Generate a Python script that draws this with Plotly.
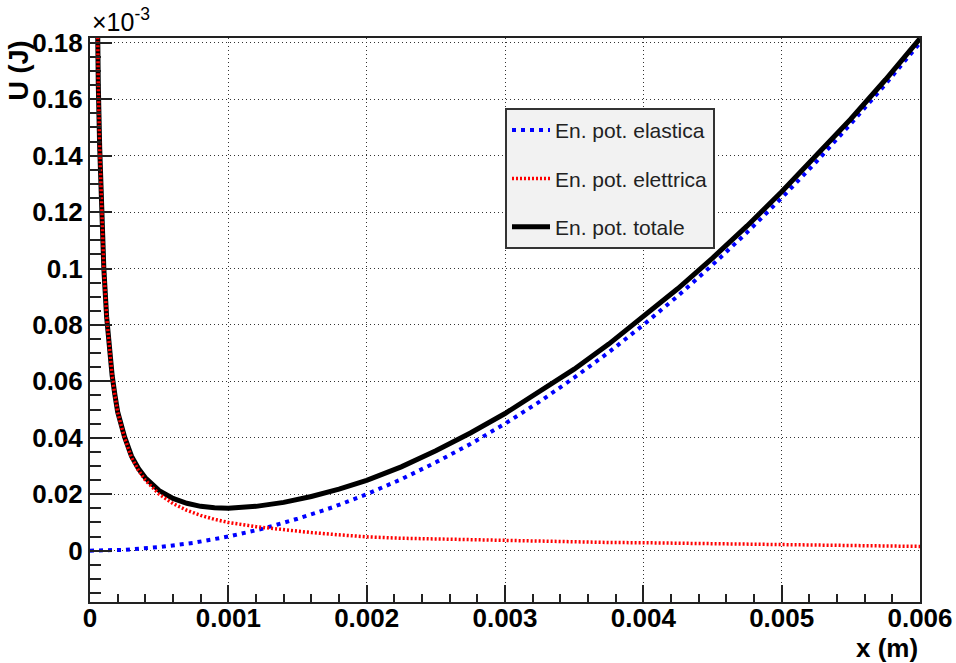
import plotly.graph_objects as go

# ---- data (energies in units of 1e-3 J, x in m) ----
x_el = [0, 0.00025, 0.0005, 0.00075, 0.001, 0.00125, 0.0015, 0.00175, 0.002,
        0.00225, 0.0025, 0.00275, 0.003, 0.00325, 0.0035, 0.00375, 0.004,
        0.00425, 0.0045, 0.00475, 0.005, 0.00525, 0.0055, 0.00575, 0.006]
u_elastica = [0, 0.0003, 0.00125, 0.0028, 0.005, 0.0078, 0.0113, 0.0153, 0.020,
              0.0253, 0.0313, 0.0378, 0.045, 0.0528, 0.0613, 0.0703, 0.080,
              0.0903, 0.1013, 0.1128, 0.125, 0.1378, 0.1513, 0.1653, 0.180]

x_e = [0.00004, 0.00005, 0.00006, 0.00007, 0.00008, 0.00009, 0.0001, 0.00012,
       0.00014, 0.00016, 0.00018, 0.0002, 0.00025, 0.0003, 0.00035, 0.0004,
       0.0005, 0.0006, 0.0007, 0.0008, 0.0009, 0.001, 0.0012, 0.0014, 0.0016,
       0.0018, 0.002, 0.00225, 0.0025, 0.00275, 0.003, 0.00325, 0.0035, 0.00375,
       0.004, 0.00425, 0.0045, 0.00475, 0.005, 0.00525, 0.0055, 0.00575, 0.006]
u_elettrica = [0.25, 0.195, 0.165, 0.143, 0.125, 0.111, 0.100, 0.083,
               0.071, 0.062, 0.055, 0.049, 0.040, 0.033, 0.0285, 0.025,
               0.020, 0.0167, 0.0143, 0.0125, 0.0111, 0.0100, 0.0085, 0.0073, 0.0064,
               0.0056, 0.0049, 0.0044, 0.0041, 0.0039, 0.0036, 0.0034, 0.0030, 0.0029,
               0.0028, 0.0026, 0.0024, 0.0023, 0.0022, 0.0021, 0.0017, 0.0016, 0.0015]
u_totale = [0.25, 0.195, 0.165, 0.143, 0.125, 0.111, 0.100, 0.083,
            0.0711, 0.0621, 0.0552, 0.0492, 0.0403, 0.0335, 0.0291, 0.0258,
            0.0213, 0.0185, 0.0168, 0.0157, 0.0152, 0.0150, 0.0157, 0.0171, 0.0192,
            0.0218, 0.0249, 0.0297, 0.0354, 0.0417, 0.0486, 0.0562, 0.0643, 0.0732,
            0.0828, 0.0929, 0.1037, 0.1151, 0.1272, 0.1399, 0.1530, 0.1669, 0.1815]

x_tickvals = [0, 0.001, 0.002, 0.003, 0.004, 0.005, 0.006]
x_ticktext = ["0", "0.001", "0.002", "0.003", "0.004", "0.005", "0.006"]
y_tickvals = [0, 0.02, 0.04, 0.06, 0.08, 0.1, 0.12, 0.14, 0.16, 0.18]
y_ticktext = ["0", "0.02", "0.04", "0.06", "0.08", "0.1", "0.12", "0.14", "0.16", "0.18"]

names = ["En. pot. elastica", "En. pot. elettrica", "En. pot. totale"]

FONT = "Liberation Sans, Arial, Helvetica, sans-serif"

fig = go.Figure()
fig.add_trace(go.Scatter(x=x_el, y=u_elastica, mode="lines", name=names[0],
                         legendgroup="a", legendrank=1,
                         line=dict(color="#0000ff", width=4, dash="4px,5px")))
fig.add_trace(go.Scatter(x=x_e, y=u_totale, mode="lines", name=names[2],
                         legendgroup="c", legendrank=3,
                         line=dict(color="#000000", width=5)))
fig.add_trace(go.Scatter(x=x_e, y=u_elettrica, mode="lines", name=names[1],
                         legendgroup="b", legendrank=2,
                         line=dict(color="#ff0000", width=3.5, dash="2px,2px")))

axis_common = dict(
    showline=True, linecolor="#222", linewidth=2, mirror=True,
    ticks="inside", tickcolor="#222", tickwidth=2,
    showgrid=True, gridcolor="#333", gridwidth=1, griddash="1px,3px",
    zeroline=False, automargin=False,
    tickfont=dict(family=FONT, size=26, color="#000", weight="bold"),
)

fig.update_xaxes(**axis_common, range=[0, 0.006], tickvals=x_tickvals, ticktext=x_ticktext,
                 ticklen=17, ticklabelstandoff=-8,
                 minor=dict(ticks="inside", ticklen=8, dtick=0.0002, tick0=0,
                            tickcolor="#222", tickwidth=2, showgrid=False))
fig.update_yaxes(**axis_common, range=[-0.0182, 0.1817], tickvals=y_tickvals, ticktext=y_ticktext,
                 ticklen=22,
                 minor=dict(ticks="inside", ticklen=11, dtick=0.005, tick0=0,
                            tickcolor="#222", tickwidth=2, showgrid=False))

fig.update_layout(
    width=956, height=663,
    margin=dict(l=90, r=36, t=38, b=61),
    paper_bgcolor="white", plot_bgcolor="white",
    showlegend=True,
    legend=dict(x=0.5, y=0.876, xanchor="left", yanchor="top",
                bgcolor="#f2f2f2", bordercolor="#333", borderwidth=2,
                font=dict(family=FONT, size=21, color="#222"),
                itemwidth=38,
                tracegroupgap=18, traceorder="grouped"),
    annotations=[
        dict(text="<b>U (J)</b>", xref="paper", yref="paper", x=-0.085, y=1.0,
             xanchor="center", yanchor="top", textangle=-90, showarrow=False,
             font=dict(family=FONT, size=27, color="#000")),
        dict(text="<b>x (m)</b>", xref="paper", yref="paper", x=1.0, y=-0.081,
             xanchor="right", yanchor="middle", showarrow=False,
             font=dict(family=FONT, size=26, color="#000")),
        dict(text="×10<sup>-3</sup>", xref="paper", yref="paper", x=0.0, y=1.0,
             xanchor="left", yanchor="bottom", showarrow=False,
             font=dict(family=FONT, size=25, color="#000")),
    ],
)

fig.write_html("out.html", config={"displayModeBar": False},
               post_script="document.body.style.margin='0';document.body.style.overflow='hidden';")
